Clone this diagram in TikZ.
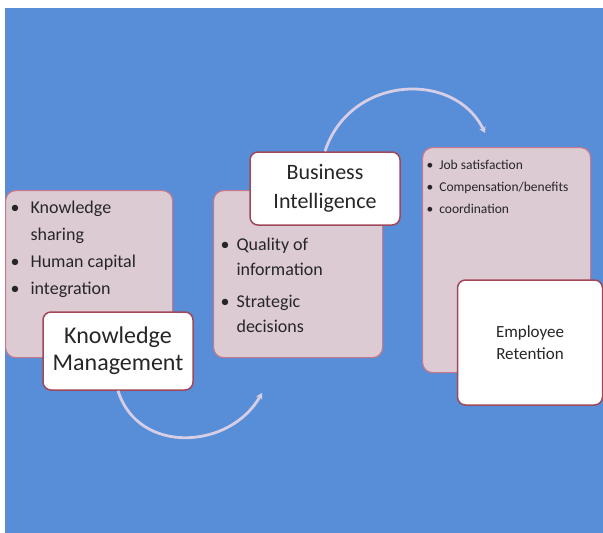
\documentclass[tikz,border=0pt]{standalone}
\usepackage{fontspec}
\setmainfont{Carlito}
\usetikzlibrary{arrows.meta}

\definecolor{bgblue}{RGB}{88,142,215}
\definecolor{listfill}{RGB}{221,203,212}
\definecolor{listedge}{RGB}{200,120,140}
\definecolor{titleedge}{RGB}{160,72,90}
\definecolor{arccol}{RGB}{214,206,230}
\definecolor{inkgray}{RGB}{38,38,38}

\begin{document}
\begin{tikzpicture}[x=1pt, y=-1pt,
    listbox/.style={draw=listedge, fill=listfill, line width=1.2pt, rounded corners=10pt,
        anchor=north west, inner sep=0pt, text=inkgray},
    titlebox/.style={draw=titleedge, fill=white, line width=1.5pt, rounded corners=8pt,
        align=center, inner sep=0pt, text=inkgray},
    flowarc/.style={draw=arccol, line width=2.8pt, -{Stealth[length=6pt,width=7pt]}}]
    \useasboundingbox (0,0) rectangle (603,533);
    % Background
    \fill[bgblue] (5,8) rectangle (603,533);

    % Knowledge management
    \node[listbox] (kmlist) at (5,190) {\parbox[t][167pt][t]{167pt}{%
        \fontsize{18}{27}\selectfont\vspace*{4pt}\hspace*{5pt}%
        \begin{tabular}[t]{@{}l@{\hspace{11pt}}l@{}}
        \textbullet & Knowledge\\ & sharing\\ \textbullet & Human capital\\ \textbullet & integration
        \end{tabular}}};
    \node[titlebox, minimum width=150pt, minimum height=78pt,
        font=\fontsize{24}{27}\selectfont] (kmtitle) at (118,351) {Knowledge\\Management};

    % Business intelligence
    \node[listbox] (bilist) at (213,190) {\parbox[t][167pt][t]{169pt}{%
        \fontsize{18}{25}\selectfont\vspace*{42.5pt}\hspace*{7pt}%
        \begin{tabular}[t]{@{}l@{\hspace{7pt}}l@{}}
        \textbullet & Quality of\\ & information\\[7pt] \textbullet & Strategic\\ & decisions
        \end{tabular}}};
    \node[titlebox, minimum width=150pt, minimum height=73pt,
        font=\fontsize{22}{29}\selectfont] (bititle) at (325,188.5) {Business\\Intelligence};

    % Employee retention
    \node[listbox] (erlist) at (422,147) {\parbox[t][225pt][t]{168pt}{%
        \fontsize{13.5}{22}\selectfont\vspace*{6.6pt}\hspace*{4pt}%
        \begin{tabular}[t]{@{}l@{\hspace{6pt}}l@{}}
        \textbullet & Job satisfaction\\ \textbullet & Compensation/benefits\\ \textbullet & coordination
        \end{tabular}}};
    \node[titlebox, minimum width=145pt, minimum height=125pt,
        font=\fontsize{17}{22}\selectfont] (ertitle) at (530,342.5) {Employee\\Retention};

    % Arcs between the stages
    \coordinate (kmend) at (262,393);
    \coordinate (biend) at (485,133);
    \draw[flowarc] (kmtitle.south) .. controls (138,455) and (230,450) .. (kmend);
    \draw[flowarc] (bititle.north) .. controls (350,75) and (455,70) .. (biend);
\end{tikzpicture}
\end{document}
